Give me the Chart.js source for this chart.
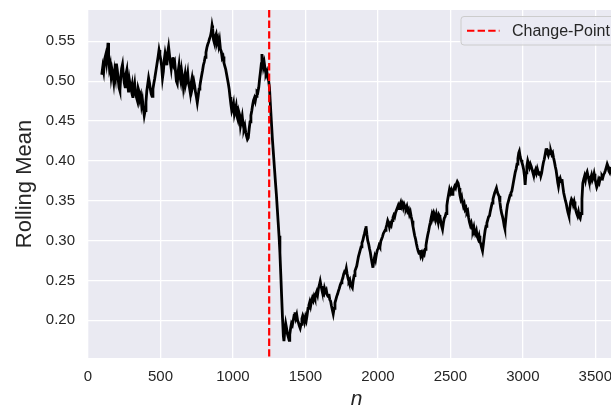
<!DOCTYPE html>
<html>
<head>
<meta charset="utf-8">
<script src="https://cdn.jsdelivr.net/npm/chart.js@4/dist/chart.umd.min.js"></script>
<style>
  html, body { margin: 0; padding: 0; background: #ffffff; overflow: hidden; }
  #wrap { width: 640px; height: 407px; }
</style>
</head>
<body>
<div id="wrap"><canvas id="chart" width="640" height="407"></canvas></div>
<script>
// Rolling mean of the stream, as [n, mean] pairs, split around the change-point.
const meanBefore = [
  [95,0.508],[102,0.518],[108,0.512],[115,0.528],[122,0.533],[128,0.524],[134,0.536],[138,0.548],[142,0.530],[148,0.516],
  [154,0.521],[160,0.506],[166,0.514],[172,0.508],[178,0.499],[184,0.512],[190,0.505],[196,0.522],[202,0.514],[208,0.503],
  [214,0.492],[220,0.488],[226,0.505],[232,0.516],[238,0.521],[244,0.508],[250,0.498],[256,0.493],[262,0.509],[268,0.514],
  [274,0.496],[280,0.486],[286,0.501],[292,0.494],[298,0.489],[304,0.495],[310,0.479],[316,0.490],[322,0.497],[328,0.485],
  [334,0.480],[340,0.476],[346,0.491],[352,0.487],[358,0.478],[364,0.482],[370,0.470],[376,0.476],[382,0.466],[388,0.457],
  [394,0.463],[400,0.474],[406,0.488],[412,0.496],[418,0.504],[424,0.498],[430,0.490],[436,0.484],[442,0.481],[448,0.490],
  [454,0.497],[460,0.503],[466,0.510],[472,0.517],[478,0.524],[484,0.531],[490,0.539],[496,0.533],[502,0.527],[508,0.519],
  [514,0.504],[520,0.512],[526,0.527],[532,0.535],[538,0.529],[544,0.520],[550,0.536],[556,0.543],[562,0.533],[568,0.524],
  [574,0.516],[580,0.527],[586,0.530],[592,0.521],[598,0.524],[604,0.512],[610,0.500],[616,0.497],[622,0.512],[628,0.520],
  [634,0.506],[640,0.500],[646,0.513],[652,0.505],[658,0.493],[664,0.502],[670,0.509],[676,0.498],[682,0.503],[688,0.510],
  [694,0.497],[700,0.492],[706,0.485],[712,0.498],[718,0.504],[724,0.495],[730,0.500],[736,0.494],[742,0.486],[748,0.480],
  [754,0.473],[760,0.481],[766,0.490],[772,0.494],[778,0.501],[784,0.507],[790,0.513],[796,0.520],[802,0.524],[808,0.530],
  [814,0.536],[820,0.542],[826,0.546],[832,0.549],[838,0.553],[844,0.556],[850,0.561],[856,0.570],[860,0.566],[866,0.552],
  [872,0.548],[878,0.556],[884,0.559],[890,0.549],[896,0.553],[902,0.545],[908,0.551],[914,0.540],[920,0.537],[926,0.529],
  [932,0.531],[938,0.523],[944,0.519],[950,0.515],[956,0.509],[962,0.503],[968,0.497],[974,0.490],[980,0.480],[986,0.471],
  [992,0.463],[998,0.467],[1004,0.472],[1010,0.459],[1016,0.464],[1022,0.469],[1028,0.456],[1034,0.452],[1040,0.462],[1046,0.458],
  [1052,0.444],[1058,0.450],[1064,0.456],[1070,0.446],[1076,0.440],[1082,0.444],[1088,0.436],[1094,0.431],[1100,0.427],[1106,0.429],
  [1112,0.440],[1118,0.449],[1124,0.457],[1130,0.463],[1136,0.470],[1142,0.476],[1148,0.479],[1154,0.475],[1160,0.481],[1166,0.487],
  [1172,0.486],[1178,0.492],[1184,0.503],[1190,0.512],[1196,0.522],[1200,0.534],[1205,0.527],[1210,0.518],[1216,0.523],[1222,0.515],
  [1228,0.509],[1234,0.512],[1240,0.504],[1246,0.501],[1252,0.492]
];

const meanDrop = [
  [1258,0.472],[1265,0.450],[1272,0.428],[1279,0.410],[1286,0.392],[1293,0.374],[1300,0.357],[1306,0.340],[1312,0.323],[1318,0.306],
  [1324,0.285],[1330,0.258],[1336,0.230],[1342,0.203],[1348,0.180],[1352,0.174]
];

const meanAfter = [
  [1358,0.188],[1364,0.196],[1370,0.190],[1376,0.183],[1382,0.179],[1388,0.175],[1392,0.182],[1398,0.190],[1404,0.196],[1410,0.194],
  [1416,0.200],[1422,0.206],[1428,0.210],[1434,0.203],[1440,0.207],[1446,0.200],[1452,0.197],[1458,0.193],[1464,0.190],[1470,0.195],
  [1476,0.202],[1482,0.206],[1488,0.203],[1494,0.198],[1500,0.204],[1506,0.200],[1512,0.207],[1518,0.215],[1524,0.219],[1530,0.223],
  [1536,0.218],[1542,0.224],[1548,0.228],[1554,0.225],[1560,0.230],[1566,0.227],[1572,0.233],[1578,0.236],[1584,0.232],[1590,0.240],
  [1596,0.244],[1602,0.249],[1608,0.243],[1614,0.238],[1620,0.233],[1626,0.232],[1632,0.240],[1638,0.236],[1644,0.238],[1650,0.232],
  [1656,0.230],[1662,0.233],[1668,0.226],[1674,0.224],[1680,0.218],[1686,0.213],[1692,0.208],[1698,0.215],[1704,0.222],[1710,0.226],
  [1716,0.230],[1722,0.233],[1728,0.237],[1734,0.240],[1740,0.244],[1746,0.247],[1752,0.250],[1758,0.253],[1764,0.258],[1770,0.261],
  [1776,0.260],[1782,0.265],[1788,0.258],[1794,0.253],[1800,0.249],[1806,0.251],[1812,0.245],[1818,0.243],[1824,0.241],[1830,0.250],
  [1836,0.256],[1842,0.262],[1848,0.265],[1854,0.268],[1860,0.274],[1866,0.280],[1872,0.284],[1878,0.288],[1884,0.292],[1890,0.297],
  [1896,0.300],[1902,0.305],[1908,0.309],[1914,0.314],[1918,0.318],[1924,0.308],[1930,0.300],[1936,0.296],[1942,0.290],[1948,0.285],
  [1954,0.278],[1960,0.272],[1966,0.266],[1972,0.275],[1978,0.280],[1984,0.276],[1990,0.283],[1996,0.288],[2002,0.290],[2008,0.294],
  [2014,0.292],[2020,0.299],[2026,0.302],[2032,0.305],[2038,0.309],[2044,0.311],[2050,0.313],[2056,0.316],[2062,0.320],[2068,0.325],
  [2074,0.322],[2080,0.317],[2086,0.321],[2092,0.319],[2098,0.325],[2104,0.329],[2110,0.332],[2116,0.330],[2122,0.335],[2128,0.338],
  [2134,0.341],[2140,0.344],[2146,0.340],[2152,0.345],[2158,0.348],[2164,0.343],[2170,0.346],[2176,0.341],[2182,0.345],[2188,0.342],
  [2194,0.340],[2200,0.343],[2206,0.337],[2212,0.339],[2218,0.333],[2224,0.336],[2230,0.330],[2236,0.325],[2242,0.318],[2248,0.312],
  [2254,0.306],[2260,0.302],[2266,0.296],[2272,0.291],[2278,0.287],[2284,0.284],[2290,0.288],[2296,0.281],[2302,0.284],[2308,0.280],
  [2314,0.285],[2320,0.283],[2326,0.289],[2332,0.294],[2338,0.301],[2344,0.307],[2350,0.312],[2356,0.318],[2362,0.323],[2368,0.329],
  [2374,0.334],[2380,0.331],[2386,0.335],[2392,0.332],[2398,0.327],[2404,0.333],[2410,0.328],[2416,0.323],[2422,0.332],[2428,0.330],
  [2434,0.324],[2440,0.318],[2446,0.314],[2452,0.322],[2458,0.328],[2464,0.330],[2470,0.334],[2476,0.344],[2482,0.352],[2488,0.358],
  [2494,0.364],[2500,0.360],[2506,0.363],[2512,0.358],[2518,0.361],[2524,0.365],[2530,0.368],[2536,0.366],[2542,0.371],[2548,0.374],
  [2554,0.372],[2560,0.366],[2566,0.357],[2572,0.352],[2578,0.355],[2584,0.348],[2590,0.343],[2596,0.346],[2602,0.339],[2608,0.341],
  [2614,0.335],[2620,0.337],[2626,0.329],[2632,0.323],[2638,0.319],[2644,0.322],[2650,0.316],[2656,0.313],[2662,0.317],[2668,0.310],
  [2674,0.308],[2680,0.312],[2686,0.305],[2692,0.302],[2698,0.306],[2704,0.299],[2710,0.296],[2716,0.291],[2722,0.287],[2728,0.296],
  [2734,0.305],[2740,0.313],[2746,0.318],[2752,0.322],[2758,0.326],[2764,0.330],[2770,0.331],[2776,0.337],[2782,0.342],[2788,0.347],
  [2794,0.352],[2800,0.356],[2806,0.360],[2812,0.363],[2818,0.366],[2824,0.361],[2830,0.358],[2836,0.356],[2842,0.348],[2848,0.340],
  [2854,0.334],[2860,0.330],[2866,0.325],[2872,0.318],[2876,0.315],[2882,0.326],[2888,0.337],[2894,0.345],[2900,0.349],[2906,0.353],
  [2912,0.357],[2918,0.360],[2924,0.362],[2930,0.368],[2936,0.374],[2942,0.380],[2948,0.386],[2954,0.390],[2960,0.396],[2966,0.403],
  [2972,0.410],[2976,0.412],[2982,0.405],[2988,0.401],[2994,0.398],[3000,0.394],[3006,0.389],[3012,0.380],[3016,0.370],[3022,0.385],
  [3028,0.393],[3034,0.400],[3040,0.396],[3046,0.392],[3052,0.396],[3058,0.393],[3064,0.389],[3070,0.385],[3076,0.381],[3082,0.386],
  [3088,0.389],[3094,0.385],[3100,0.390],[3106,0.386],[3112,0.383],[3118,0.387],[3124,0.381],[3130,0.385],[3136,0.392],[3142,0.398],
  [3148,0.402],[3154,0.408],[3160,0.414],[3164,0.416],[3170,0.410],[3176,0.407],[3182,0.411],[3188,0.409],[3194,0.412],[3200,0.408],
  [3206,0.410],[3212,0.404],[3218,0.399],[3224,0.393],[3230,0.388],[3236,0.380],[3242,0.372],[3246,0.368],[3252,0.375],[3258,0.378],
  [3264,0.374],[3270,0.377],[3276,0.368],[3282,0.360],[3288,0.355],[3294,0.350],[3300,0.346],[3306,0.340],[3312,0.335],[3318,0.331],
  [3324,0.340],[3330,0.348],[3336,0.352],[3342,0.350],[3348,0.345],[3354,0.349],[3360,0.343],[3366,0.338],[3372,0.334],[3378,0.331],
  [3384,0.336],[3390,0.330],[3396,0.328],[3402,0.334],[3408,0.352],[3414,0.372],[3420,0.377],[3426,0.381],[3432,0.376],[3438,0.383],
  [3444,0.386],[3450,0.381],[3456,0.376],[3462,0.373],[3468,0.378],[3474,0.382],[3480,0.376],[3486,0.379],[3492,0.384],[3498,0.378],
  [3504,0.372],[3510,0.367],[3516,0.370],[3522,0.376],[3528,0.373],[3534,0.378],[3540,0.377],[3546,0.381],[3552,0.379],[3558,0.383],
  [3564,0.385],[3570,0.388],[3576,0.392],[3582,0.396],[3588,0.393],[3594,0.387],[3600,0.385],[3606,0.389],[3612,0.392]
];

const changePoint = 1250;
const xTicks = [0, 500, 1000, 1500, 2000, 2500, 3000, 3500];
const yTicks = [0.20, 0.25, 0.30, 0.35, 0.40, 0.45, 0.50, 0.55];
const xLimits = [0, 3705];
const yLimits = [0.1527, 0.5893];

const TEXT = '#262626';
const FONT = '"Liberation Sans", Arial, sans-serif';

const seriesPoints = meanBefore.concat(meanDrop, meanAfter).map(([n, v]) => ({ x: n, y: v }));

// Grey axes face behind the grid
const axesFace = {
  id: 'axesFace',
  beforeDraw(chart) {
    const { ctx, chartArea: a } = chart;
    ctx.save();
    ctx.fillStyle = '#EAEAF2';
    ctx.fillRect(a.left, a.top, a.right - a.left, a.bottom - a.top);
    ctx.restore();
  }
};

// Framed legend in the upper-right corner of the axes
const cornerLegend = {
  id: 'cornerLegend',
  afterDraw(chart) {
    const { ctx, chartArea: a } = chart;
    const ds = chart.data.datasets.find(d => d.showInLegend);
    const right = a.right - 7, top = a.top + 6.5, w = 157, h = 28.5, r = 3;
    const left = right - w;
    ctx.save();
    ctx.beginPath();
    ctx.moveTo(left + r, top);
    ctx.lineTo(right - r, top);
    ctx.arcTo(right, top, right, top + r, r);
    ctx.lineTo(right, top + h - r);
    ctx.arcTo(right, top + h, right - r, top + h, r);
    ctx.lineTo(left + r, top + h);
    ctx.arcTo(left, top + h, left, top + h - r, r);
    ctx.lineTo(left, top + r);
    ctx.arcTo(left, top, left + r, top, r);
    ctx.closePath();
    ctx.fillStyle = 'rgba(234,234,242,0.8)';
    ctx.fill();
    ctx.strokeStyle = '#CCCCCC';
    ctx.lineWidth = 1;
    ctx.stroke();

    const midY = top + h / 2;
    ctx.beginPath();
    ctx.setLineDash(ds.borderDash);
    ctx.strokeStyle = ds.borderColor;
    ctx.lineWidth = ds.borderWidth;
    ctx.moveTo(left + 6, midY);
    ctx.lineTo(left + 38.5, midY);
    ctx.stroke();
    ctx.setLineDash([]);

    ctx.fillStyle = TEXT;
    ctx.font = '16px ' + FONT;
    ctx.textBaseline = 'middle';
    ctx.textAlign = 'left';
    ctx.fillText(ds.label, left + 51, midY + 0.5);
    ctx.restore();
  }
};

new Chart(document.getElementById('chart'), {
  type: 'line',
  data: {
    datasets: [
      {
        label: 'Change-Point',
        showInLegend: true,
        data: [{ x: changePoint, y: yLimits[1] }, { x: changePoint, y: yLimits[0] }],
        borderColor: '#FF0000',
        borderWidth: 2.2,
        borderDash: [7.4, 3.2],
        pointRadius: 0,
        fill: false,
        order: 0
      },
      {
        label: 'Rolling Mean',
        data: seriesPoints,
        borderColor: '#000000',
        borderWidth: 2.8,
        pointRadius: 0,
        tension: 0,
        fill: false,
        order: 1
      }
    ]
  },
  options: {
    responsive: false,
    animation: false,
    events: [],
    layout: { padding: { top: 10, right: 15, left: 0, bottom: 0 } },
    plugins: { legend: { display: false }, tooltip: { enabled: false } },
    scales: {
      x: {
        type: 'linear',
        min: xLimits[0],
        max: xLimits[1],
        afterBuildTicks: s => { s.ticks = xTicks.map(v => ({ value: v })); },
        afterFit: s => { s.height = 49; s.paddingLeft = 0; s.paddingRight = 0; },
        border: { display: false },
        grid: { color: '#FFFFFF', lineWidth: 1.3, drawTicks: false },
        ticks: { color: TEXT, font: { family: FONT, size: 15 }, padding: 10, maxRotation: 0, callback: v => String(v) },
        title: { display: true, text: 'n', color: TEXT, font: { family: FONT, size: 21, style: 'italic', lineHeight: 0.75 }, padding: { top: 0, bottom: 0 } }
      },
      y: {
        type: 'linear',
        min: yLimits[0],
        max: yLimits[1],
        afterBuildTicks: s => { s.ticks = yTicks.map(v => ({ value: v })); },
        afterFit: s => { s.width = 88; s.paddingTop = 0; s.paddingBottom = 0; },
        border: { display: false },
        grid: { color: '#FFFFFF', lineWidth: 1.3, drawTicks: false },
        ticks: { color: TEXT, font: { family: FONT, size: 15 }, padding: 13, callback: v => v.toFixed(2) },
        title: { display: true, text: 'Rolling Mean', color: TEXT, font: { family: FONT, size: 22 }, padding: { top: 12, bottom: 0 } }
      }
    }
  },
  plugins: [axesFace, cornerLegend]
});
</script>
</body>
</html>
